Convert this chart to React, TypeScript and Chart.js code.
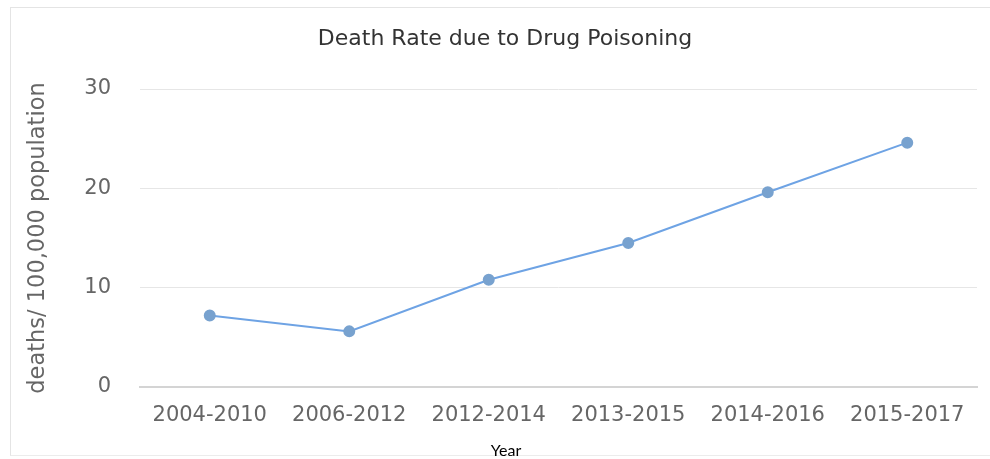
import React, { useEffect, useRef } from "react";
import { Chart, registerables } from "chart.js";

Chart.register(...registerables);

// Three-year reporting windows along the x axis
const periods: string[] = [
  "2004-2010",
  "2006-2012",
  "2012-2014",
  "2013-2015",
  "2014-2016",
  "2015-2017",
];

// Deaths per 100,000 population for each window
const deathRates: number[] = [7.2, 5.6, 10.8, 14.5, 19.6, 24.6];

// Value axis range and step
const yMin = 0;
const yMax = 30;
const yStep = 10;

const chartTitle = "Death Rate due to Drug Poisoning";
const yAxisTitle = "deaths/ 100,000 population";
const xAxisTitle = "Year";

const W = 990;
const H = 459;

// Heading above the plot and the small caption under the category labels
const captionsPlugin = {
  id: "captions",
  afterDraw(chart: Chart) {
    const { ctx } = chart;
    ctx.save();
    ctx.textAlign = "center";
    ctx.textBaseline = "alphabetic";

    ctx.font = "22px 'DejaVu Sans', sans-serif";
    ctx.fillStyle = "#333333";
    ctx.fillText(chartTitle, 505, 45);

    ctx.font = "16px Lato, 'Liberation Sans', sans-serif";
    ctx.fillStyle = "#000000";
    ctx.fillText(xAxisTitle, 506, 456);
    ctx.restore();
  },
};

export default function App() {
  const canvasRef = useRef<HTMLCanvasElement | null>(null);

  useEffect(() => {
    const canvas = canvasRef.current;
    if (!canvas) return;

    const chart = new Chart(canvas, {
      type: "line",
      data: {
        labels: periods,
        datasets: [
          {
            label: "Death rate",
            data: deathRates,
            borderColor: "#6ea3e4",
            borderWidth: 2,
            backgroundColor: "#78a2cf",
            pointBackgroundColor: "#78a2cf",
            pointBorderColor: "#78a2cf",
            pointRadius: 5,
            pointHoverRadius: 5,
            tension: 0,
            fill: false,
          },
        ],
      },
      options: {
        responsive: false,
        maintainAspectRatio: false,
        animation: false,
        layout: {
          padding: { top: 89, right: 13, bottom: 0, left: 0 },
        },
        plugins: {
          legend: { display: false },
          tooltip: { enabled: false },
          title: { display: false },
        },
        scales: {
          x: {
            type: "category",
            offset: true,
            grid: { display: false, drawTicks: false },
            border: { display: true, color: "#d4d4d4", width: 2 },
            ticks: {
              color: "#666666",
              font: { family: "'DejaVu Sans', sans-serif", size: 21 },
              padding: 16,
              maxRotation: 0,
              autoSkip: false,
            },
            afterFit(scale: any) {
              scale.height = 72;
              scale.paddingLeft = 0;
              scale.paddingRight = 0;
            },
          },
          y: {
            min: yMin,
            max: yMax,
            grid: { color: "#e6e6e6", lineWidth: 1, drawTicks: false },
            border: { display: false },
            ticks: {
              stepSize: yStep,
              color: "#666666",
              font: { family: "'DejaVu Sans', sans-serif", size: 21 },
              padding: 29,
            },
            title: {
              display: true,
              text: yAxisTitle,
              color: "#666666",
              font: { family: "'DejaVu Sans', sans-serif", size: 22.5 },
              padding: { top: 25, bottom: 0 },
            },
            afterFit(scale: any) {
              scale.width = 140;
              scale.paddingTop = 0;
              scale.paddingBottom = 0;
            },
          },
        },
      },
      plugins: [captionsPlugin],
    });

    return () => chart.destroy();
  }, []);

  return (
    <div
      style={{
        position: "fixed",
        left: 0,
        top: 0,
        width: W,
        height: H,
        background: "#ffffff",
        overflow: "hidden",
      }}
    >
      <div
        style={{
          position: "absolute",
          left: 10,
          top: 7,
          width: 985,
          height: 447,
          borderLeft: "1px solid #e4e4e4",
          borderTop: "1px solid #e4e4e4",
          borderBottom: "1px solid #ececec",
        }}
      />
      <canvas
        ref={canvasRef}
        width={W}
        height={H}
        style={{ position: "absolute", left: 0, top: 0, width: W, height: H }}
      />
    </div>
  );
}
